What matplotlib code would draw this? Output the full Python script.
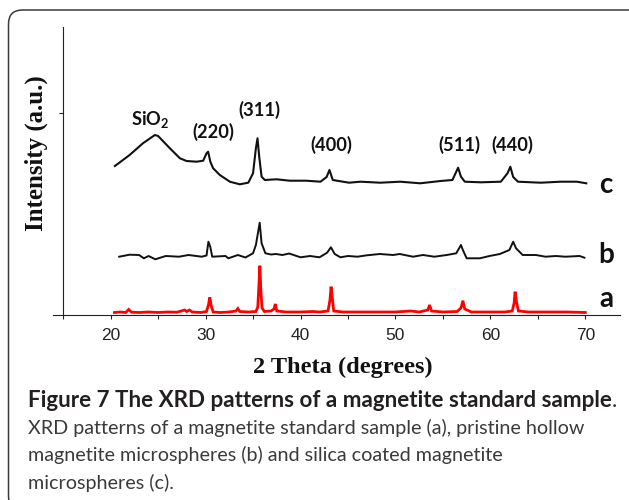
import matplotlib
matplotlib.use('Agg')
import matplotlib.pyplot as plt
from matplotlib.patches import FancyBboxPatch
from matplotlib.transforms import IdentityTransform

plt.rcParams['mathtext.fontset'] = 'custom'
plt.rcParams['mathtext.rm'] = 'Lato:bold'
plt.rcParams['mathtext.bf'] = 'Lato:bold'
plt.rcParams['mathtext.it'] = 'Lato:bold'

# ---------------- data ----------------
# (a) magnetite standard sample (red)
a_theta = [20.4, 21.0, 21.6, 21.9, 22.2, 23.0, 24.0, 25.0, 26.0, 27.0,
           27.8, 28.0, 28.3, 28.6, 29.5, 30.1, 30.3, 30.45, 30.6, 30.8,
           31.5, 32.5, 33.2, 33.4, 33.6, 34.5, 35.3, 35.5, 35.62, 35.72,
           35.82, 35.95, 36.2, 36.9, 37.2, 37.35, 37.5, 38.5, 40.0, 41.3,
           42.0, 42.9, 43.1, 43.22, 43.35, 43.5, 44.5, 46.0, 48.0, 50.0,
           51.6, 52.5, 53.4, 53.6, 53.8, 55.0, 56.5, 56.9, 57.1, 57.3,
           58.0, 60.0, 61.5, 62.3, 62.5, 62.6, 62.75, 62.95, 64.0, 66.0,
           68.0, 70.0]
a_int = [2.5, 3.0, 2.5, 5.5, 2.8, 2.5, 3.0, 2.5, 3.0, 2.8,
         5.0, 3.5, 5.0, 3.0, 2.5, 3.5, 10.0, 17.7, 9.0, 3.0,
         2.5, 3.0, 4.0, 6.5, 3.5, 3.0, 3.5, 8.0, 30.0, 49.3,
         25.0, 7.0, 3.5, 4.0, 6.0, 11.0, 4.0, 3.0, 3.0, 3.5,
         3.0, 4.0, 15.0, 28.3, 17.0, 4.0, 3.0, 3.0, 3.0, 3.0,
         4.0, 3.0, 5.0, 10.0, 4.0, 3.0, 3.5, 7.0, 14.3, 6.0,
         3.0, 3.0, 3.0, 4.0, 12.0, 23.3, 13.0, 4.0, 3.0, 3.0,
         3.0, 2.5]

# (b) pristine hollow magnetite microspheres
b_theta = [20.9, 22.0, 23.0, 23.5, 24.0, 24.7, 25.8, 27.2, 28.2, 29.6,
           30.1, 30.3, 30.5, 30.7, 32.1, 32.4, 33.1, 33.4, 34.2, 35.0,
           35.3, 35.7, 35.9, 36.3, 36.9, 37.4, 38.1, 38.8, 40.0, 41.0,
           42.0, 42.8, 43.2, 43.6, 44.2, 45.0, 46.0, 47.0, 48.35, 49.75,
           50.45, 51.85, 52.9, 54.1, 55.4, 56.4, 56.9, 57.1, 57.5, 58.9,
           59.9, 61.0, 62.0, 62.4, 62.7, 63.4, 64.8, 65.8, 66.9, 67.9,
           69.4, 69.9]
b_int = [58.3, 60.3, 60.0, 56.7, 59.0, 55.7, 59.0, 58.3, 60.0, 58.3,
         59.5, 73.3, 68.0, 58.3, 59.0, 56.7, 59.0, 60.0, 57.5, 61.7,
         70.0, 92.3, 71.7, 61.7, 60.5, 61.0, 60.0, 61.5, 57.7, 59.0,
         57.7, 62.3, 67.7, 61.0, 57.7, 59.0, 58.3, 59.7, 61.0, 60.0,
         61.0, 58.3, 60.0, 58.3, 60.0, 61.7, 70.0, 65.0, 56.7, 56.7,
         59.0, 61.0, 65.0, 73.3, 66.7, 60.0, 60.0, 58.3, 59.0, 58.3,
         59.0, 57.3]

# (c) silica coated magnetite microspheres
c_theta = [20.45, 22.0, 23.4, 24.66, 25.0, 26.24, 27.3, 28.0, 29.05, 29.75,
           30.1, 30.27, 30.5, 30.8, 31.5, 32.56, 33.6, 34.5, 35.0, 35.3,
           35.47, 35.65, 35.9, 36.24, 37.47, 38.87, 40.6, 42.1, 42.75, 43.05,
           43.4, 45.1, 46.3, 48.4, 50.5, 52.6, 54.75, 56.0, 56.6, 56.9,
           57.3, 59.0, 61.1, 61.8, 62.1, 62.4, 62.9, 65.3, 67.4, 69.1,
           70.1]
c_int = [149.0, 160.0, 171.7, 180.0, 179.0, 166.7, 156.7, 154.0, 153.3, 154.3,
         161.7, 163.3, 153.3, 146.7, 140.0, 133.3, 130.7, 132.3, 141.7, 166.7,
         176.7, 158.3, 138.3, 135.0, 135.7, 134.3, 134.3, 133.3, 138.0, 145.0,
         135.0, 132.3, 133.3, 132.3, 133.3, 131.7, 134.0, 135.0, 147.3, 138.3,
         133.3, 132.7, 133.3, 141.7, 148.3, 138.0, 133.3, 132.3, 133.3, 133.3,
         131.7]

x_ticks = [15, 20, 25, 30, 35, 40, 45, 50, 55, 60, 65, 70]
x_ticklabels = ['', '20', '', '30', '', '40', '', '50', '', '60', '', '70']

peak_labels = ['(220)', '(311)', '(400)', '(511)', '(440)']
peak_x = [30.8, 35.7, 43.2, 56.7, 62.3]
peak_y = [183.5, 205.0, 170.0, 170.0, 170.0]

curve_names = ['a', 'b', 'c']
curve_name_y = [8.3, 51.7, 122.0]

caption_bold = 'Figure 7 The XRD patterns of a magnetite standard sample'
caption_lines = ['XRD patterns of a magnetite standard sample (a), pristine hollow',
                 'magnetite microspheres (b) and silica coated magnetite',
                 'microspheres (c).']

# ---------------- figure ----------------
W, H = 629, 500
fig = plt.figure(figsize=(W / 100, H / 100), dpi=100)
fig.patch.set_facecolor('white')


def fx(px):
    return px / W


def fy(py):
    return 1 - py / H


# rounded frame
frame = FancyBboxPatch((8.5, -10), 660, 500, boxstyle='round,pad=0,rounding_size=14',
                       transform=IdentityTransform(), facecolor='none',
                       edgecolor='#3a3a3a', linewidth=1.1)
fig.add_artist(frame)

ax = fig.add_axes([fx(53), fy(315), (620 - 53) / W, (315 - 27) / H])
ax.set_xlim(13.93, 73.65)
ax.set_ylim(0, 288)
ax.patch.set_alpha(0)

for s in ['top', 'right']:
    ax.spines[s].set_visible(False)
ax.spines['left'].set_position(('data', 15))
for s in ['left', 'bottom']:
    ax.spines[s].set_color('#222222')
    ax.spines[s].set_linewidth(0.8)

ax.plot(a_theta, a_int, color='#ff0000', lw=2.0, solid_joinstyle='miter')
ax.plot(b_theta, b_int, color='#111111', lw=1.4)
ax.plot(c_theta, c_int, color='#111111', lw=1.5)

ax.set_xticks(x_ticks)
ax.set_xticklabels(x_ticklabels, fontfamily='Liberation Sans', fontsize=12.5, color='#222222')
ax.tick_params(axis='x', direction='out', length=3, width=0.8, pad=6.0, color='#222222')
ax.set_yticks([202])
ax.set_yticklabels([])
ax.tick_params(axis='y', direction='out', length=3, width=0.8, color='#222222')

r = fig.canvas.get_renderer()


def fit(t, target, dim='w'):
    t.set_fontsize(10)
    bb = t.get_window_extent(renderer=r)
    w = bb.width if dim == 'w' else bb.height
    t.set_fontsize(10 * target / w)
    return t


# peak labels
sio2 = ax.text(24.2, 190, r'SiO$_\mathbf{2}$', ha='center', va='baseline',
               fontfamily='Lato', fontweight='bold', color='#111111')
fit(sio2, 39)
for lab, px_, py_ in zip(peak_labels, peak_x, peak_y):
    t = ax.text(px_, py_, lab, ha='center', va='center', fontfamily='Lato',
                fontweight='bold', color='#111111')
    fit(t, 42)
for nm, ny in zip(curve_names, curve_name_y):
    ax.text(72.2, ny, nm, ha='center', va='baseline', fontfamily='Lato',
            fontweight='bold', fontsize=20, color='#111111', clip_on=False)

# axis titles
xl = fig.text(fx(343), fy(372.7), '2 Theta (degrees)', ha='center', va='baseline',
              fontfamily='Liberation Serif', fontweight='bold', color='#111111')
fit(xl, 180)
yl = fig.text(fx(36), fy(153), 'Intensity (a.u.)', ha='center', va='center', rotation=90,
              fontfamily='Liberation Serif', fontweight='bold', color='#111111')
fit(yl, 156, 'h')

# caption
cb = fig.text(fx(28), fy(407.3), caption_bold, ha='left', va='baseline',
              fontfamily='Lato', fontweight='bold', color='#231f20')
fit(cb, 583)
bb = cb.get_window_extent(renderer=r)
fig.text(bb.x1 / W, fy(407.3), '.', ha='left', va='baseline', fontfamily='Lato',
         fontsize=cb.get_fontsize(), color='#333333')
baselines = [434.3, 461.5, 488.5]
t0 = fig.text(fx(28), fy(baselines[0]), caption_lines[0], ha='left', va='baseline',
              fontfamily='Lato', color='#3a3a3a')
fit(t0, 557)
for line, bl in zip(caption_lines[1:], baselines[1:]):
    fig.text(fx(28), fy(bl), line, ha='left', va='baseline', fontfamily='Lato',
             fontsize=t0.get_fontsize(), color='#3a3a3a')

fig.savefig('out.png', dpi=100, facecolor='white')
